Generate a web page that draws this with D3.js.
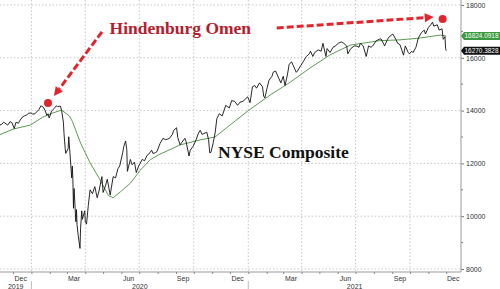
<!DOCTYPE html>
<html>
<head>
<meta charset="utf-8">
<script src="https://cdn.jsdelivr.net/npm/d3@7"></script>
<style>
body { margin: 0; background: #fff; }
svg { display: block; }
</style>
</head>
<body>
<svg id="chart"></svg>
<script>
// NYSE Composite closes
var nyseClose = [
    ["2019-11-08",13450],["2019-11-12",13480],["2019-11-15",13560],["2019-11-19",13500],["2019-11-22",13450],
    ["2019-11-26",13580],["2019-11-29",13550],["2019-12-03",13320],["2019-12-06",13560],["2019-12-10",13520],
    ["2019-12-13",13640],["2019-12-17",13760],["2019-12-20",13800],["2019-12-24",13830],["2019-12-27",13900],
    ["2019-12-31",13910],["2020-01-03",13870],["2020-01-07",13880],["2020-01-10",13950],["2020-01-14",14050],
    ["2020-01-17",14180],["2020-01-21",14130],["2020-01-24",14010],["2020-01-27",13820],["2020-01-29",13880],
    ["2020-01-31",13720],["2020-02-04",13980],["2020-02-07",14050],["2020-02-12",14180],["2020-02-14",14150],
    ["2020-02-19",14170],["2020-02-21",14000],["2020-02-24",13560],["2020-02-25",13140],["2020-02-27",12560],
    ["2020-02-28",12380],["2020-03-03",12560],["2020-03-04",13010],["2020-03-06",12400],["2020-03-09",11450],
    ["2020-03-10",11900],["2020-03-11",11380],["2020-03-12",10300],["2020-03-13",11050],["2020-03-16",9790],
    ["2020-03-17",10250],["2020-03-18",9680],["2020-03-20",9270],["2020-03-23",8780],["2020-03-24",9550],
    ["2020-03-26",10200],["2020-03-27",9880],["2020-03-31",10200],["2020-04-01",9790],["2020-04-03",9700],
    ["2020-04-06",10400],["2020-04-09",11000],["2020-04-13",10850],["2020-04-17",11120],["2020-04-21",10700],
    ["2020-04-24",10950],["2020-04-29",11500],["2020-05-01",10900],["2020-05-05",11150],["2020-05-08",11400],
    ["2020-05-13",10800],["2020-05-14",10950],["2020-05-18",11500],["2020-05-22",11450],["2020-05-26",11800],
    ["2020-05-29",11900],["2020-06-03",12400],["2020-06-05",12650],["2020-06-08",12850],["2020-06-10",12520],
    ["2020-06-11",11700],["2020-06-16",12150],["2020-06-19",11950],["2020-06-23",12050],["2020-06-26",11650],
    ["2020-06-30",11900],["2020-07-02",11980],["2020-07-06",12150],["2020-07-10",12100],["2020-07-14",12300],
    ["2020-07-17",12350],["2020-07-22",12500],["2020-07-24",12380],["2020-07-28",12400],["2020-07-31",12450],
    ["2020-08-05",12750],["2020-08-10",12950],["2020-08-14",12900],["2020-08-18",12920],["2020-08-21",12950],
    ["2020-08-26",13100],["2020-08-28",13250],["2020-09-02",13350],["2020-09-04",12980],["2020-09-08",12700],
    ["2020-09-11",12800],["2020-09-16",12950],["2020-09-18",12830],["2020-09-21",12500],["2020-09-23",12280],
    ["2020-09-25",12500],["2020-09-30",12650],["2020-10-05",12900],["2020-10-09",13150],["2020-10-12",13250],
    ["2020-10-15",13100],["2020-10-20",13150],["2020-10-23",13180],["2020-10-26",12900],["2020-10-28",12400],
    ["2020-10-30",12420],["2020-11-03",12800],["2020-11-06",13150],["2020-11-09",13700],["2020-11-13",13880],
    ["2020-11-18",13800],["2020-11-24",14200],["2020-11-30",14100],["2020-12-04",14380],["2020-12-09",14350],
    ["2020-12-14",14200],["2020-12-18",14320],["2020-12-23",14350],["2020-12-31",14520],["2021-01-04",14300],
    ["2021-01-08",14900],["2021-01-12",14950],["2021-01-15",14850],["2021-01-20",15050],["2021-01-25",14900],
    ["2021-01-27",14550],["2021-01-29",14480],["2021-02-02",14880],["2021-02-05",15150],["2021-02-10",15300],
    ["2021-02-12",15450],["2021-02-16",15500],["2021-02-19",15350],["2021-02-25",15050],["2021-03-01",15300],
    ["2021-03-04",14950],["2021-03-08",15350],["2021-03-11",15750],["2021-03-15",15850],["2021-03-18",15700],
    ["2021-03-23",15450],["2021-03-25",15500],["2021-03-31",15720],["2021-04-05",15900],["2021-04-09",16050],
    ["2021-04-14",16150],["2021-04-16",16250],["2021-04-20",16050],["2021-04-23",16200],["2021-04-29",16300],
    ["2021-05-04",16250],["2021-05-07",16550],["2021-05-12",16050],["2021-05-14",16350],["2021-05-19",16200],
    ["2021-05-24",16400],["2021-05-28",16450],["2021-06-02",16550],["2021-06-07",16600],["2021-06-11",16550],
    ["2021-06-16",16450],["2021-06-18",16150],["2021-06-23",16350],["2021-06-29",16450],["2021-07-02",16450],
    ["2021-07-07",16400],["2021-07-09",16550],["2021-07-14",16450],["2021-07-19",16050],["2021-07-23",16450],
    ["2021-07-27",16400],["2021-07-30",16450],["2021-08-05",16650],["2021-08-10",16700],["2021-08-13",16720],
    ["2021-08-18",16500],["2021-08-19",16450],["2021-08-24",16700],["2021-08-27",16800],["2021-09-02",16900],
    ["2021-09-07",16700],["2021-09-10",16550],["2021-09-14",16500],["2021-09-20",16100],["2021-09-23",16450],
    ["2021-09-28",16200],["2021-09-30",16150],["2021-10-04",16250],["2021-10-06",16200],["2021-10-11",16400],
    ["2021-10-15",16750],["2021-10-20",16950],["2021-10-25",17050],["2021-10-27",16900],["2021-11-01",17150],
    ["2021-11-05",17250],["2021-11-08",17350],["2021-11-10",17200],["2021-11-16",17250],["2021-11-19",17050],
    ["2021-11-24",17100],["2021-11-26",16700],["2021-11-29",16800],["2021-11-30",16350],["2021-12-01",16270]
];

// moving average (green)
var movingAvg = [
    ["2019-11-08",13080],["2019-12-01",13300],["2019-12-30",13450],["2020-01-20",13750],["2020-02-05",13900],
    ["2020-02-21",14020],["2020-03-05",13800],["2020-03-10",13600],["2020-03-24",12770],["2020-04-09",12020],
    ["2020-04-26",11370],["2020-05-10",10780],["2020-05-18",10700],["2020-05-30",10920],["2020-06-16",11250],
    ["2020-07-03",11750],["2020-07-20",12150],["2020-08-05",12350],["2020-09-08",12700],["2020-10-12",12890],
    ["2020-11-06",13000],["2020-12-01",13450],["2021-01-01",14000],["2021-02-07",14590],["2021-03-13",15080],
    ["2021-04-15",15610],["2021-05-19",16110],["2021-06-22",16480],["2021-08-11",16650],["2021-09-14",16680],
    ["2021-10-18",16750],["2021-11-21",16860],["2021-12-01",16824]
];

var lastClose = 16270.3828;
var lastAvg = 16824.0918;

var yTicks = [8000, 10000, 12000, 14000, 16000, 18000];
var yMinorTicks = [9000, 11000, 13000, 15000, 17000];
var gridDates = ["2020-01-01","2020-04-01","2020-07-01","2020-10-01","2021-01-01","2021-04-01","2021-07-01","2021-10-01"];
var monthLabelDates = ["2019-12-14","2020-03-13","2020-06-13","2020-09-13","2020-12-14","2021-03-14","2021-06-14","2021-09-14","2021-12-13"];
var monthLabels = ["Dec","Mar","Jun","Sep","Dec","Mar","Jun","Sep","Dec"];
var yearStarts = ["2019-11-09","2020-01-01","2021-01-01"];
var yearLabels = ["2019","2020","2021"];

// annotations, in data space
var omenDates = ["2020-01-29","2021-11-25"];
var omenValues = [14290, 17470];
var arrowFrom = [["2020-04-29",16980],["2021-02-18",17130]];
var arrowTo = [["2020-02-08",14550],["2021-11-10",17545]];
var titleText = ["Hindenburg Omen", "NYSE Composite"];
var titleAt = [["2020-05-12",16902],["2020-11-11",12205]];

var parse = d3.utcParse("%Y-%m-%d");

const width = 500;
const height = 289;
const plotRight = 461;
const axisY = 272;

const x = d3.scaleUtc([parse("2019-11-09"), parse("2021-12-26")], [0, plotRight]);
const y = d3.scaleLinear([8000, 18000], [269, 5]);

var svg = d3.select("#chart")
    .attr("width", width)
    .attr("height", height)
    .attr("viewBox", [0, 0, width, height])
    .style("font-family", "'Liberation Sans', Arial, sans-serif");

// grid
svg.append("g").selectAll("line").data(yTicks).join("line")
    .attr("x1", 0).attr("x2", plotRight)
    .attr("y1", d => y(d)).attr("y2", d => y(d))
    .attr("stroke", "#c8c8c8").attr("stroke-width", 1).attr("stroke-dasharray", "1.5,2");
svg.append("g").selectAll("line").data(gridDates).join("line")
    .attr("x1", d => x(parse(d))).attr("x2", d => x(parse(d)))
    .attr("y1", 0).attr("y2", axisY)
    .attr("stroke", "#c8c8c8").attr("stroke-width", 1).attr("stroke-dasharray", "1.5,2");

// series
var line = d3.line().x(d => x(parse(d[0]))).y(d => y(d[1]));
svg.append("path").datum(movingAvg)
    .attr("d", line).attr("fill", "none")
    .attr("stroke", "#5f9a55").attr("stroke-width", 1);
svg.append("path").datum(nyseClose)
    .attr("d", line).attr("fill", "none")
    .attr("stroke", "#111").attr("stroke-width", 0.9).attr("stroke-linejoin", "round");

// right axis
var yAxis = svg.append("g")
    .attr("transform", "translate(" + plotRight + ",0)")
    .call(d3.axisRight(y).tickValues(yTicks).tickSize(3).tickPadding(2).tickFormat(d3.format("d")))
    .call(g => g.select(".domain").remove());
yAxis.selectAll("text").attr("font-size", 7).attr("fill", "#333");
yAxis.selectAll("line").attr("stroke", "#777");
svg.append("g").selectAll("line").data(yMinorTicks).join("line")
    .attr("x1", plotRight).attr("x2", plotRight + 2)
    .attr("y1", d => y(d)).attr("y2", d => y(d))
    .attr("stroke", "#777");
svg.append("line")
    .attr("x1", plotRight).attr("x2", plotRight).attr("y1", 0).attr("y2", axisY)
    .attr("stroke", "#999").attr("stroke-width", 1);

// bottom axis
var xAxis = svg.append("g")
    .attr("transform", "translate(0," + axisY + ")")
    .call(d3.axisBottom(x).ticks(d3.utcMonth.every(1)).tickSize(2).tickFormat(""));
xAxis.select(".domain").attr("stroke", "#999").attr("d", "M0,0H" + plotRight);
xAxis.selectAll(".tick line").attr("stroke", "#888");
xAxis.selectAll(".tick").filter(d => x(d) > plotRight).remove();

svg.append("g").selectAll("text").data(monthLabels).join("text")
    .attr("x", (d, i) => x(parse(monthLabelDates[i])))
    .attr("y", 281)
    .attr("text-anchor", "middle")
    .attr("font-size", 7).attr("fill", "#333")
    .text(d => d);

svg.append("g").selectAll("text").data(yearLabels).join("text")
    .attr("x", (d, i) => {
        var a = x(parse(yearStarts[i]));
        var b = i + 1 < yearStarts.length ? x(parse(yearStarts[i + 1])) : plotRight;
        return (a + b) / 2;
    })
    .attr("y", 288.5)
    .attr("text-anchor", "middle")
    .attr("font-size", 7).attr("fill", "#333")
    .text(d => d);
svg.append("g").selectAll("line").data(yearStarts.slice(1)).join("line")
    .attr("x1", d => x(parse(d))).attr("x2", d => x(parse(d)))
    .attr("y1", 281).attr("y2", height)
    .attr("stroke", "#bbb");

// last value boxes
function valueBox(v, fill, label) {
    var cy = y(v);
    svg.append("path")
        .attr("d", "M" + plotRight + "," + cy + "L" + (plotRight + 3) + "," + (cy - 4) + "H" + width + "V" + (cy + 4) + "H" + (plotRight + 3) + "Z")
        .attr("fill", fill);
    svg.append("text")
        .attr("x", plotRight + 3.5).attr("y", cy + 2.4)
        .attr("font-size", 6.8).attr("fill", "#fff")
        .attr("textLength", 34).attr("lengthAdjust", "spacingAndGlyphs")
        .text(label);
}
valueBox(lastAvg, "#3a9a3e", d3.format(".4f")(lastAvg));
valueBox(lastClose, "#111", d3.format(".4f")(lastClose));

// arrows
var red = "#e0262c";
arrowFrom.forEach(function(p, i) {
    var x0 = x(parse(p[0])), y0 = y(p[1]);
    var x1 = x(parse(arrowTo[i][0])), y1 = y(arrowTo[i][1]);
    var dx = x1 - x0, dy = y1 - y0, len = Math.sqrt(dx * dx + dy * dy);
    var ux = dx / len, uy = dy / len;
    var head = 9, half = 4.5;
    var bx = x1 - ux * head, by = y1 - uy * head;
    svg.append("line")
        .attr("x1", x0).attr("y1", y0).attr("x2", bx).attr("y2", by)
        .attr("stroke", red).attr("stroke-width", 3).attr("stroke-dasharray", "7,3");
    svg.append("path")
        .attr("d", "M" + x1 + "," + y1 + "L" + (bx - uy * half) + "," + (by + ux * half) + "L" + (bx + uy * half) + "," + (by - ux * half) + "Z")
        .attr("fill", red);
});

// omen dots
svg.append("g").selectAll("circle").data(omenDates).join("circle")
    .attr("cx", d => x(parse(d)))
    .attr("cy", (d, i) => y(omenValues[i]))
    .attr("r", 4)
    .attr("fill", red);

// titles
svg.append("g").selectAll("text").data(titleText).join("text")
    .attr("x", (d, i) => x(parse(titleAt[i][0])))
    .attr("y", (d, i) => y(titleAt[i][1]))
    .attr("font-family", "'Liberation Serif', 'Times New Roman', serif")
    .attr("font-weight", "bold")
    .attr("font-size", 17.5)
    .attr("fill", (d, i) => i === 0 ? "#b71c2c" : "#111")
    .text(d => d);
</script>
</body>
</html>
